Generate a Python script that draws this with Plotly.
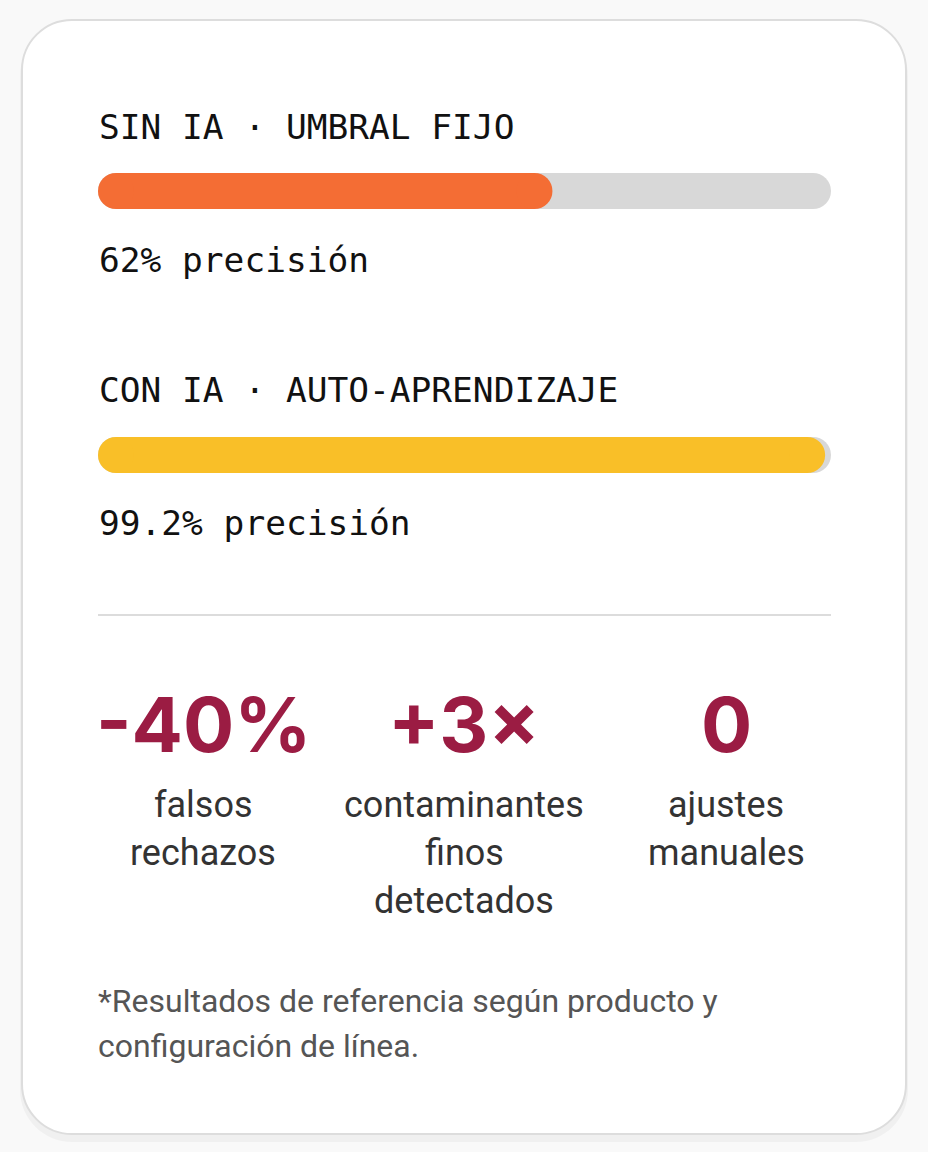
import plotly.graph_objects as go

# Data
bar_titles = ["SIN IA · UMBRAL FIJO", "CON IA · AUTO-APRENDIZAJE"]
precision = [62, 99.2]
precision_labels = ["62% precisión", "99.2% precisión"]
bar_colors = ["#F46D34", "#F9BF28"]

stat_values = ["-40%", "+3×", "0"]
stat_labels = [["falsos", "rechazos"],
               ["contaminantes", "finos", "detectados"],
               ["ajustes", "manuales"]]
footnote = ["*Resultados de referencia según producto y",
            "configuración de línea."]

W, H = 928, 1152
TRACK_X0, TRACK_X1 = 98, 831
BAR_PX = 36
bar_rows = [191, 455]
title_rows = [127, 390]
label_rows = [260, 523]
stat_cols = [203, 464, 726]


def px(x):
    return x / W


def py(y):
    return 1 - y / H


def rounded_path(x0, y0, x1, y1, r):
    k = 0.5523 * r
    pts = [
        f"M {px(x0 + r)},{py(y0)}",
        f"L {px(x1 - r)},{py(y0)}",
        f"C {px(x1 - r + k)},{py(y0)} {px(x1)},{py(y0 + r - k)} {px(x1)},{py(y0 + r)}",
        f"L {px(x1)},{py(y1 - r)}",
        f"C {px(x1)},{py(y1 - r + k)} {px(x1 - r + k)},{py(y1)} {px(x1 - r)},{py(y1)}",
        f"L {px(x0 + r)},{py(y1)}",
        f"C {px(x0 + r - k)},{py(y1)} {px(x0)},{py(y1 - r + k)} {px(x0)},{py(y1 - r)}",
        f"L {px(x0)},{py(y0 + r)}",
        f"C {px(x0)},{py(y0 + r - k)} {px(x0 + r - k)},{py(y0)} {px(x0 + r)},{py(y0)}",
        "Z",
    ]
    return " ".join(pts)


fig = go.Figure()

# half the bar thickness expressed in axis units, so the round caps stay inside the track
cap = (BAR_PX / 2) / ((TRACK_X1 - TRACK_X0) / 100)

for row, val, col in zip(bar_rows, precision, bar_colors):
    fig.add_trace(go.Scatter(
        x=[cap, 100 - cap], y=[row, row], mode="lines+markers",
        line=dict(color="#D8D8D8", width=BAR_PX),
        marker=dict(color="#D8D8D8", size=BAR_PX, line=dict(width=0)),
        hoverinfo="skip", showlegend=False))
    fig.add_trace(go.Scatter(
        x=[cap, val - cap], y=[row, row], mode="lines+markers",
        line=dict(color=col, width=BAR_PX),
        marker=dict(color=col, size=BAR_PX, line=dict(width=0)),
        hoverinfo="skip", showlegend=False))

mono = dict(family="DejaVu Sans Mono", size=34.5, color="#111111")
for t, yy in zip(bar_titles, title_rows):
    fig.add_annotation(x=px(TRACK_X0 - 1), y=py(yy), xref="paper", yref="paper",
                       text=t, showarrow=False, xanchor="left", yanchor="middle",
                       font=mono)
for t, yy in zip(precision_labels, label_rows):
    fig.add_annotation(x=px(TRACK_X0 - 1), y=py(yy), xref="paper", yref="paper",
                       text=t, showarrow=False, xanchor="left", yanchor="middle",
                       font=mono)

for cx, v, lines in zip(stat_cols, stat_values, stat_labels):
    fig.add_annotation(x=px(cx), y=py(724), xref="paper", yref="paper",
                       text=v, showarrow=False, xanchor="center", yanchor="middle",
                       font=dict(family="Inter", size=76, color="#9B1C43", weight=700))
    for i, ln in enumerate(lines):
        fig.add_annotation(x=px(cx), y=py(805 + 48 * i), xref="paper", yref="paper",
                           text=ln, showarrow=False, xanchor="center", yanchor="middle",
                           font=dict(family="Roboto", size=36, color="#333333"))

for i, ln in enumerate(footnote):
    fig.add_annotation(x=px(TRACK_X0 - 2), y=py(1001 + 45 * i), xref="paper", yref="paper",
                       text=ln, showarrow=False, xanchor="left", yanchor="middle",
                       font=dict(family="Roboto", size=32, color="#555555"))

# card shadow, card, divider
fig.add_shape(type="path", xref="paper", yref="paper", layer="below",
              path=rounded_path(20, 24, 908, 1142, 52),
              fillcolor="rgba(0,0,0,0.035)", line=dict(width=0))
fig.add_shape(type="path", xref="paper", yref="paper", layer="below",
              path=rounded_path(22, 20, 906, 1134, 50),
              fillcolor="#FFFFFF", line=dict(color="#DDDDDD", width=2))
fig.add_shape(type="line", xref="paper", yref="paper", layer="below",
              x0=px(TRACK_X0), x1=px(TRACK_X1), y0=py(615), y1=py(615),
              line=dict(color="#DCDCDC", width=2))

fig.update_layout(
    width=W, height=H,
    margin=dict(l=0, r=0, t=0, b=0),
    paper_bgcolor="#F9F9F9",
    plot_bgcolor="rgba(0,0,0,0)",
    xaxis=dict(range=[0, 100], domain=[px(TRACK_X0), px(TRACK_X1)],
               visible=False, fixedrange=True),
    yaxis=dict(range=[H, 0], domain=[0, 1], visible=False, fixedrange=True),
    hovermode=False,
)

# drop the default 8px page margin so the figure fills the window
fig.write_html("out.html", config={"displayModeBar": False},
               post_script="document.body.style.margin='0';")
